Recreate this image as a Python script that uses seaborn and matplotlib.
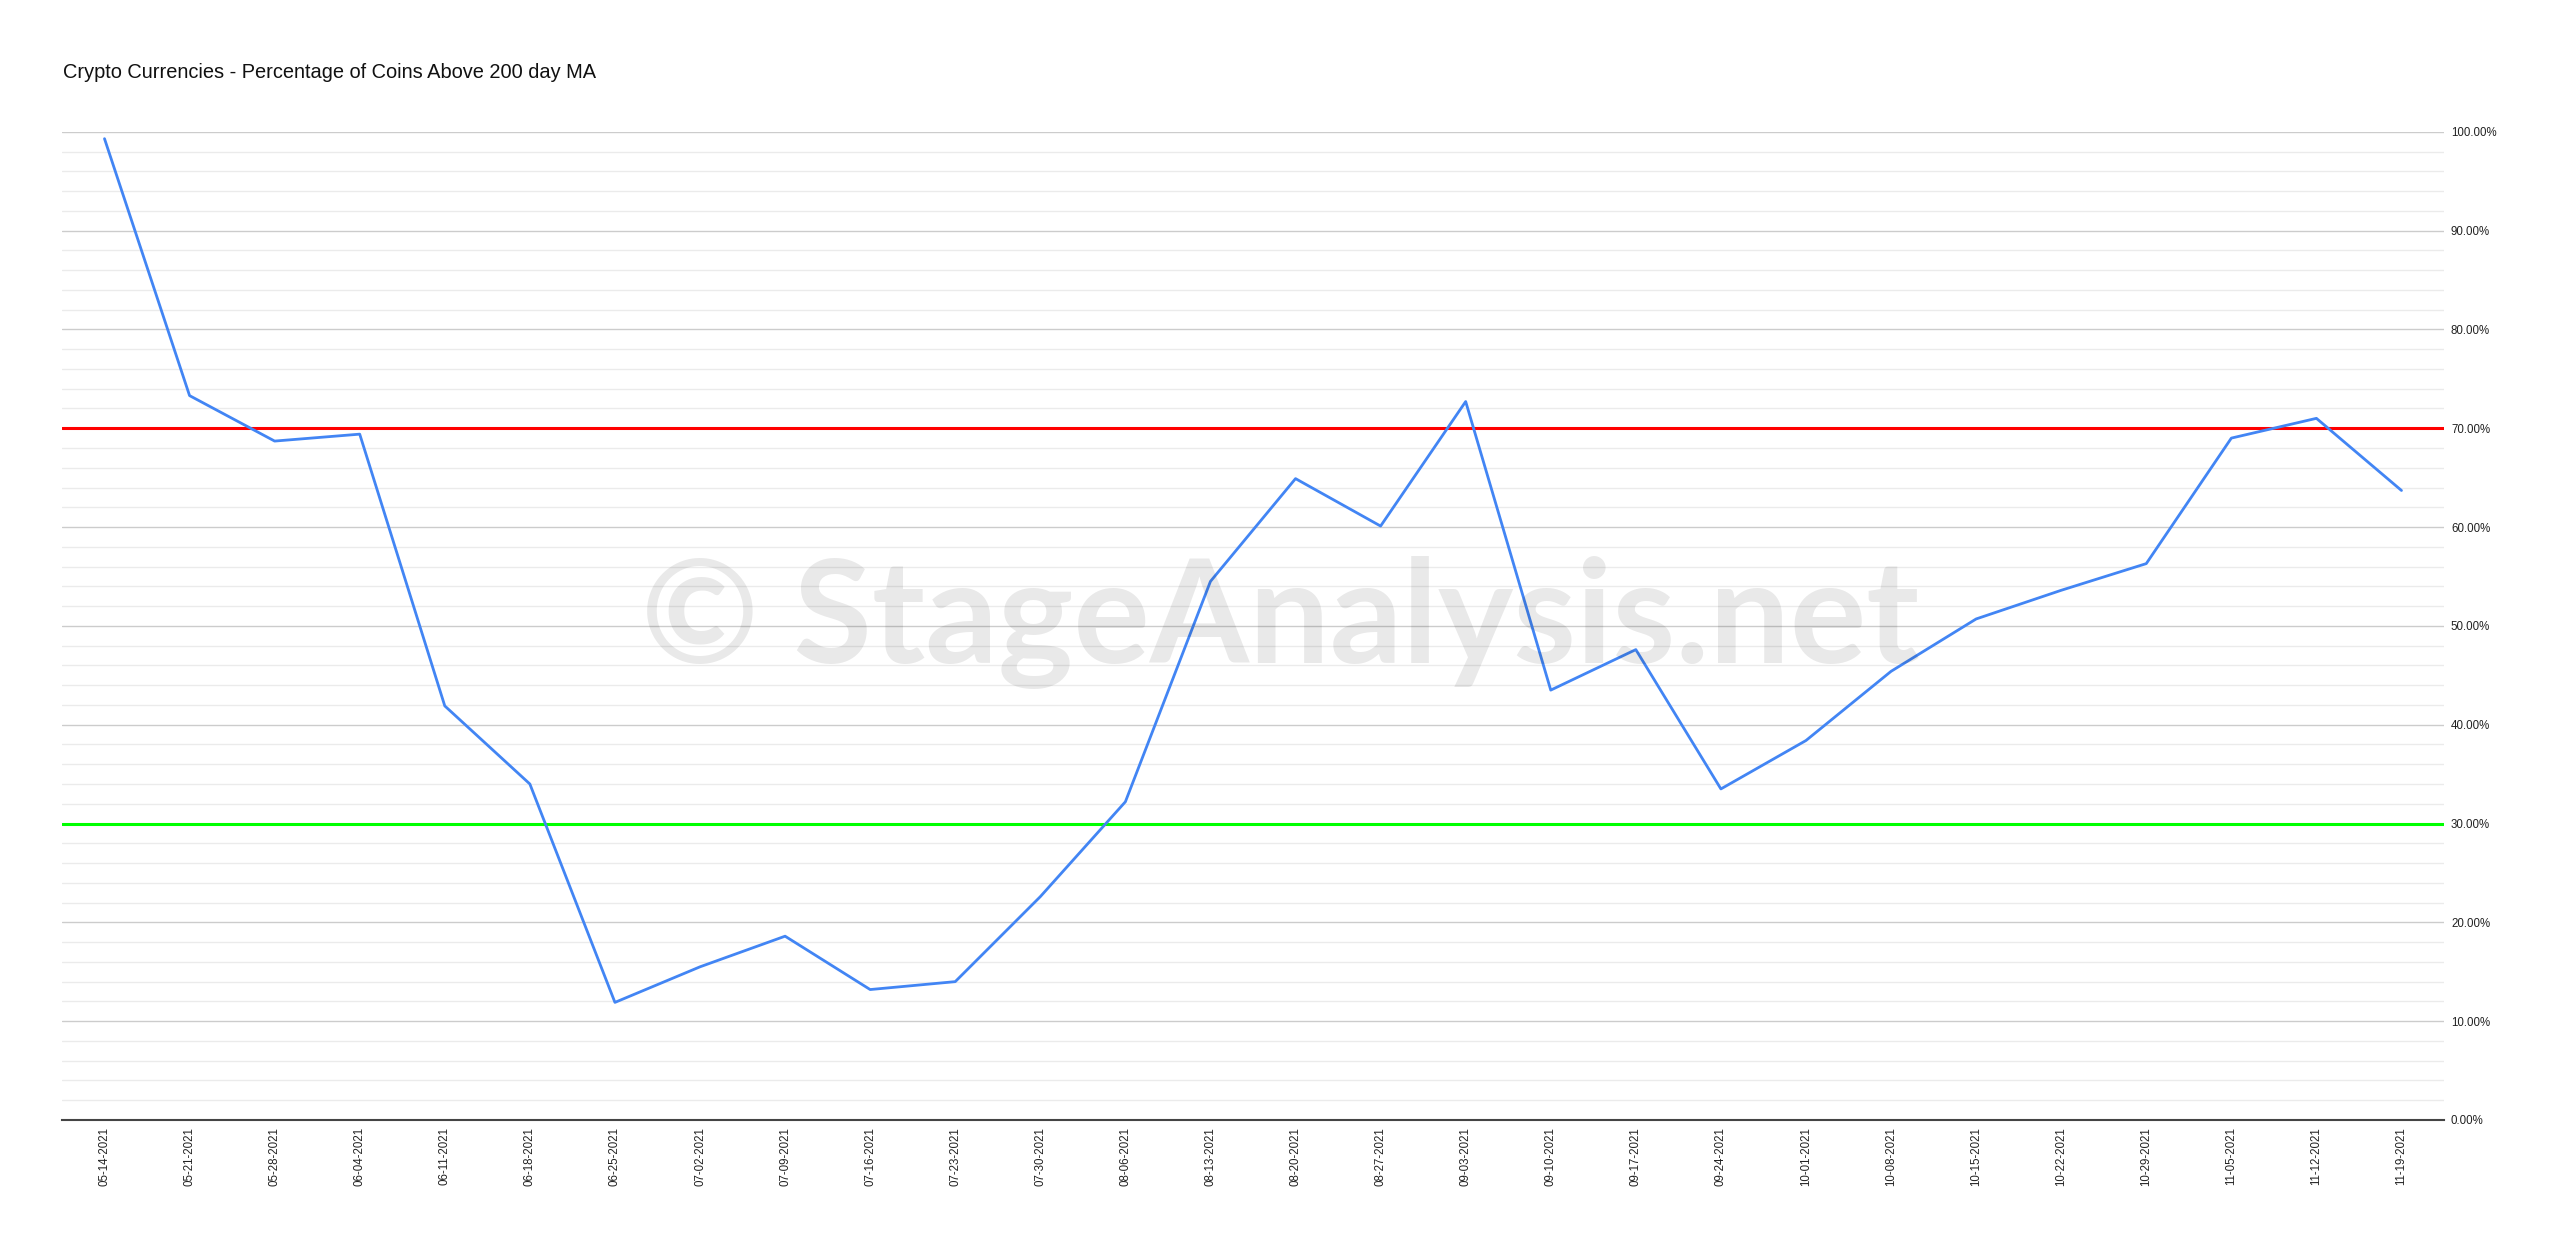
import numpy as np
import pandas as pd
import matplotlib.pyplot as plt
import seaborn as sns
from matplotlib.ticker import MultipleLocator, FuncFormatter

# ── Dados ───────────────────────────────────────────────────────────────────

WEEKS = [
    "05-14-2021", "05-21-2021", "05-28-2021", "06-04-2021", "06-11-2021",
    "06-18-2021", "06-25-2021", "07-02-2021", "07-09-2021", "07-16-2021",
    "07-23-2021", "07-30-2021", "08-06-2021", "08-13-2021", "08-20-2021",
    "08-27-2021", "09-03-2021", "09-10-2021", "09-17-2021", "09-24-2021",
    "10-01-2021", "10-08-2021", "10-15-2021", "10-22-2021", "10-29-2021",
    "11-05-2021", "11-12-2021", "11-19-2021",
]

PCT_ABOVE_200MA = [
    99.3, 73.3, 68.7, 69.4, 41.9,
    34.0, 11.9, 15.5, 18.6, 13.2,
    14.0, 22.6, 32.2, 54.5, 64.9,
    60.1, 72.7, 43.5, 47.6, 33.5,
    38.4, 45.4, 50.7, 53.6, 56.3,
    69.0, 71.0, 63.7,
]

OVERBOUGHT = 70
OVERSOLD = 30

TITLE = "Crypto Currencies - Percentage of Coins Above 200 day MA"
WATERMARK = "© StageAnalysis.net"

# ── Estilo ──────────────────────────────────────────────────────────────────

sns.set_theme(style="white")
plt.rcParams["font.family"] = ["Liberation Sans", "DejaVu Sans"]

df = pd.DataFrame({"week": np.arange(len(WEEKS)), "pct": PCT_ABOVE_200MA})

fig = plt.figure(figsize=(25.6, 12.5), dpi=100)
ax = fig.add_axes([0.0242, 0.104, 0.9305, 0.7906])

# grade: linhas menores a cada 2%, maiores a cada 10%
ax.yaxis.set_minor_locator(MultipleLocator(2))
ax.yaxis.set_major_locator(MultipleLocator(10))
ax.grid(which="minor", axis="y", color="#ebebeb", linewidth=1.0, zorder=0)
ax.grid(which="major", axis="y", color="#cccccc", linewidth=1.0, zorder=0)
ax.grid(False, axis="x")

# marca d'água
fig.text(0.5, 0.4696, WATERMARK, ha="center", va="baseline",
         fontsize=103, fontweight="bold", family=["Lato", "DejaVu Sans"],
         color="black", alpha=0.085, zorder=1)

ax.axhline(OVERBOUGHT, color="#ff0000", linewidth=2.2, zorder=2)
ax.axhline(OVERSOLD, color="#00ff00", linewidth=2.2, zorder=2)

sns.lineplot(data=df, x="week", y="pct", ax=ax, color="#4285F4",
             linewidth=2.0, zorder=3)

ax.set_xlim(-0.5, len(WEEKS) - 0.5)
ax.set_ylim(0, 100)
ax.set_xticks(df["week"])
ax.set_xticklabels(WEEKS, rotation=90, fontsize=8.3)
ax.yaxis.tick_right()
ax.yaxis.set_major_formatter(FuncFormatter(lambda v, _: f"{v:.2f}%"))
ax.tick_params(axis="y", which="both", length=0, pad=5, labelsize=8.3,
               labelcolor="#222222")
ax.tick_params(axis="x", length=0, pad=5, labelcolor="#222222")
ax.set_xlabel("")
ax.set_ylabel("")

for side in ["top", "left", "right"]:
    ax.spines[side].set_visible(False)
ax.spines["bottom"].set_color("#444444")
ax.spines["bottom"].set_linewidth(1.5)
ax.spines["bottom"].set_zorder(4)

fig.text(0.0246, 0.9416, TITLE, ha="left", va="center", fontsize=14.4,
         color="#111111")

fig.savefig("out.png", dpi=100, facecolor="white")
